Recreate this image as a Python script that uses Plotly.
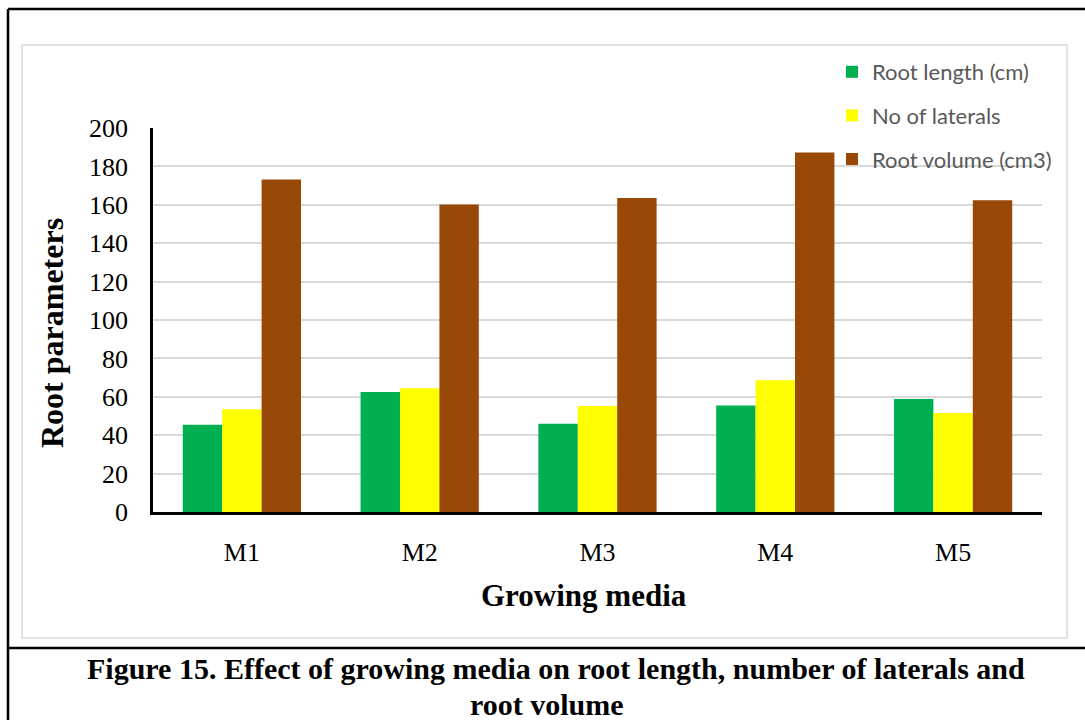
import plotly.graph_objects as go

# Growing media treatments and measured root parameters
media = ["M1", "M2", "M3", "M4", "M5"]
root_length_cm = [45.5, 62.5, 46.0, 55.5, 58.8]
no_of_laterals = [53.5, 64.5, 55.2, 68.6, 51.5]
root_volume_cm3 = [173.2, 160.2, 163.6, 187.3, 162.4]

series_names = ["Root length (cm)", "No of laterals", "Root volume (cm3)"]
series_colors = ["#00B050", "#FFFF00", "#984807"]
y_ticks = [0, 20, 40, 60, 80, 100, 120, 140, 160, 180, 200]

W, H = 1085, 720
L, R, T, B = 153, 43, 128, 208
PW, PH = W - L - R, H - T - B


def px_x(x):
    return (x - L) / PW


def px_y(y):
    return (H - B - y) / PH


fig = go.Figure()
for i, (name, vals, col) in enumerate(
    zip(series_names, [root_length_cm, no_of_laterals, root_volume_cm3], series_colors)
):
    fig.add_trace(
        go.Bar(
            x=media,
            y=vals,
            name=name,
            marker=dict(color=col, line=dict(width=0)),
            legendgroup=f"g{i}",
        )
    )

serif = "Liberation Serif, Times New Roman, serif"

fig.update_layout(
    width=W,
    height=H,
    autosize=False,
    margin=dict(l=L, r=R, t=T, b=B),
    paper_bgcolor="white",
    plot_bgcolor="white",
    barmode="group",
    bargap=0.335,
    bargroupgap=0,
    showlegend=True,
    legend=dict(
        x=px_x(832),
        y=px_y(51),
        xanchor="left",
        yanchor="top",
        bgcolor="rgba(0,0,0,0)",
        borderwidth=0,
        traceorder="grouped",
        tracegroupgap=12,
        font=dict(family="Lato, Carlito, sans-serif", size=22, color="#595959"),
    ),
    xaxis=dict(
        showline=True,
        linecolor="black",
        linewidth=2.5,
        ticks="",
        tickfont=dict(family=serif, size=26, color="black"),
        ticklabelstandoff=15,
        showgrid=False,
    ),
    yaxis=dict(
        range=[0, 200],
        tickvals=y_ticks,
        showline=True,
        linecolor="black",
        linewidth=2.5,
        ticks="",
        tickfont=dict(family=serif, size=26, color="black"),
        ticklabelstandoff=17,
        showgrid=True,
        gridcolor="#d9d9d9",
        gridwidth=1.5,
        zeroline=False,
    ),
)

annotations = [
    dict(
        text="<b>Root parameters</b>",
        x=px_x(52), y=px_y(333), xref="paper", yref="paper",
        xanchor="center", yanchor="middle",
        textangle=-90, showarrow=False,
        font=dict(family=serif, size=32, color="black"),
    ),
    dict(
        text="<b>Growing media</b>",
        x=px_x(584), y=px_y(595), xref="paper", yref="paper",
        xanchor="center", yanchor="middle",
        showarrow=False,
        font=dict(family=serif, size=31, color="black"),
    ),
    dict(
        text="<b>Figure 15. Effect of growing media on root length, number of laterals and</b>",
        x=px_x(556), y=px_y(668), xref="paper", yref="paper",
        xanchor="center", yanchor="middle",
        showarrow=False,
        font=dict(family=serif, size=30, color="black"),
    ),
    dict(
        text="<b>root volume</b>",
        x=px_x(547), y=px_y(704), xref="paper", yref="paper",
        xanchor="center", yanchor="middle",
        showarrow=False,
        font=dict(family=serif, size=30, color="black"),
    ),
]
fig.update_layout(annotations=annotations)

shapes = [
    # light grey chart-area frame
    dict(type="rect", xref="paper", yref="paper",
         x0=px_x(22), x1=px_x(1067), y0=px_y(638), y1=px_y(45),
         line=dict(color="#d9d9d9", width=1.5), fillcolor="rgba(0,0,0,0)", layer="below"),
    # outer black frame and caption divider
    dict(type="line", xref="paper", yref="paper",
         x0=px_x(8), x1=px_x(1090), y0=px_y(9), y1=px_y(9),
         line=dict(color="black", width=2.5)),
    dict(type="line", xref="paper", yref="paper",
         x0=px_x(8), x1=px_x(8), y0=px_y(9), y1=px_y(725),
         line=dict(color="black", width=2.5)),
    dict(type="line", xref="paper", yref="paper",
         x0=px_x(8), x1=px_x(1090), y0=px_y(648), y1=px_y(648),
         line=dict(color="black", width=2.5)),
]
fig.update_layout(shapes=shapes)

fig.write_html("out.html")
